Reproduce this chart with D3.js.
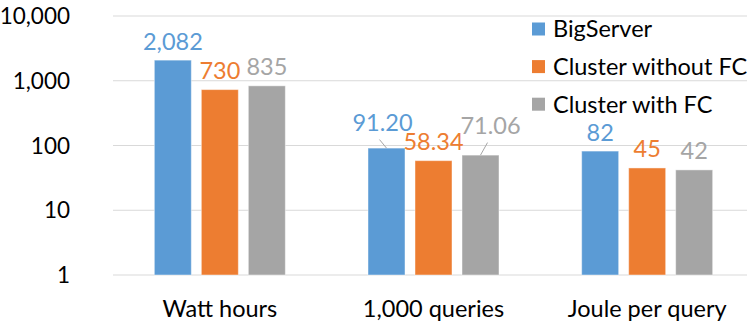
<!DOCTYPE html>
<html>
<head>
<meta charset="utf-8">
<script src="https://cdn.jsdelivr.net/npm/d3@7"></script>
<style>
  body { margin: 0; background: #fff; }
  text { font-family: Lato, "Open Sans", sans-serif; }
</style>
</head>
<body>
<div id="chart"></div>
<script>
// data
const categories = ["Watt hours", "1,000 queries", "Joule per query"];
const seriesNames = ["BigServer", "Cluster without FC", "Cluster with FC"];
const bigServer = [2082, 91.20, 82];
const clusterNoFC = [730, 58.34, 45];
const clusterFC = [835, 71.06, 42];
const labelText = [["2,082", "91.20", "82"], ["730", "58.34", "45"], ["835", "71.06", "42"]];
const yTicks = [1, 10, 100, 1000, 10000];
const colors = ["#5B9BD5", "#ED7D31", "#A5A5A5"];

const series = [bigServer, clusterNoFC, clusterFC];

// labels Excel moved to avoid overlap (series-category : [dx, dy])
const nudge = { "0-1": [-4, -7], "2-1": [10, -11] };

const width = 747, height = 322;
const plot = { left: 113, right: 754, top: 16, bottom: 275 };
const fs = 23.5;

const svg = d3.select("#chart").append("svg")
  .attr("width", width)
  .attr("height", height);

const y = d3.scaleLog().domain([1, 10000]).range([plot.bottom, plot.top]);
const x0 = d3.scaleBand().domain(categories).range([plot.left, plot.right]);
const x1 = d3.scaleBand().domain(d3.range(3)).range([-65.5, 65.5]).paddingInner(10 / 47);

// gridlines
svg.append("g")
  .selectAll("line")
  .data(yTicks)
  .join("line")
  .attr("x1", plot.left)
  .attr("x2", width)
  .attr("y1", d => y(d))
  .attr("y2", d => y(d))
  .attr("stroke", "#d9d9d9")
  .attr("stroke-width", 1);

// y tick labels
svg.append("g")
  .selectAll("text")
  .data(yTicks)
  .join("text")
  .attr("x", 70)
  .attr("y", d => y(d))
  .attr("dy", "0.36em")
  .attr("text-anchor", "end")
  .attr("font-size", 22.5)
  .attr("fill", "#000")
  .text(d => d3.format(",")(d));

// bars
const groups = svg.append("g")
  .selectAll("g")
  .data(categories)
  .join("g")
  .attr("transform", d => `translate(${x0(d) + x0.bandwidth() / 2},0)`);

groups.selectAll("rect")
  .data((c, ci) => series.map((s, si) => ({ si, ci, v: s[ci] })))
  .join("rect")
  .attr("x", d => x1(d.si))
  .attr("width", x1.bandwidth())
  .attr("y", d => y(d.v))
  .attr("height", d => plot.bottom - y(d.v))
  .attr("fill", d => colors[d.si])
  .attr("stroke", "#fff")
  .attr("stroke-opacity", 0.45)
  .attr("stroke-width", 1);

// value labels with leader lines when moved
groups.each(function (c, ci) {
  const g = d3.select(this);
  series.forEach((s, si) => {
    const cx = x1(si) + x1.bandwidth() / 2;
    const n = nudge[si + "-" + ci] || [0, 0];
    const lx = cx + n[0];
    const ly = y(s[ci]) - 10.5 + n[1];
    g.append("text")
      .attr("x", lx)
      .attr("y", ly)
      .attr("text-anchor", "middle")
      .attr("font-size", fs)
      .attr("fill", colors[si])
      .text(labelText[si][ci]);
    if (nudge[si + "-" + ci]) {
      g.append("line")
        .attr("x1", lx - 3)
        .attr("y1", ly + 9)
        .attr("x2", cx)
        .attr("y2", y(s[ci]))
        .attr("stroke", "#a6a6a6")
        .attr("stroke-width", 1);
    }
  });
});

// category labels
svg.append("g")
  .selectAll("text")
  .data(categories)
  .join("text")
  .attr("x", d => x0(d) + x0.bandwidth() / 2)
  .attr("y", 317)
  .attr("text-anchor", "middle")
  .attr("font-size", fs)
  .attr("fill", "#000")
  .text(d => d);

// legend
const legend = svg.append("g")
  .selectAll("g")
  .data(seriesNames)
  .join("g")
  .attr("transform", (d, i) => `translate(532,${29 + i * 37.6})`);

legend.append("rect")
  .attr("x", 0)
  .attr("y", -6.5)
  .attr("width", 13)
  .attr("height", 13)
  .attr("fill", (d, i) => colors[i]);

legend.append("text")
  .attr("x", 21)
  .attr("y", 0)
  .attr("dy", "0.36em")
  .attr("font-size", fs)
  .attr("fill", "#000")
  .text(d => d);
</script>
</body>
</html>
